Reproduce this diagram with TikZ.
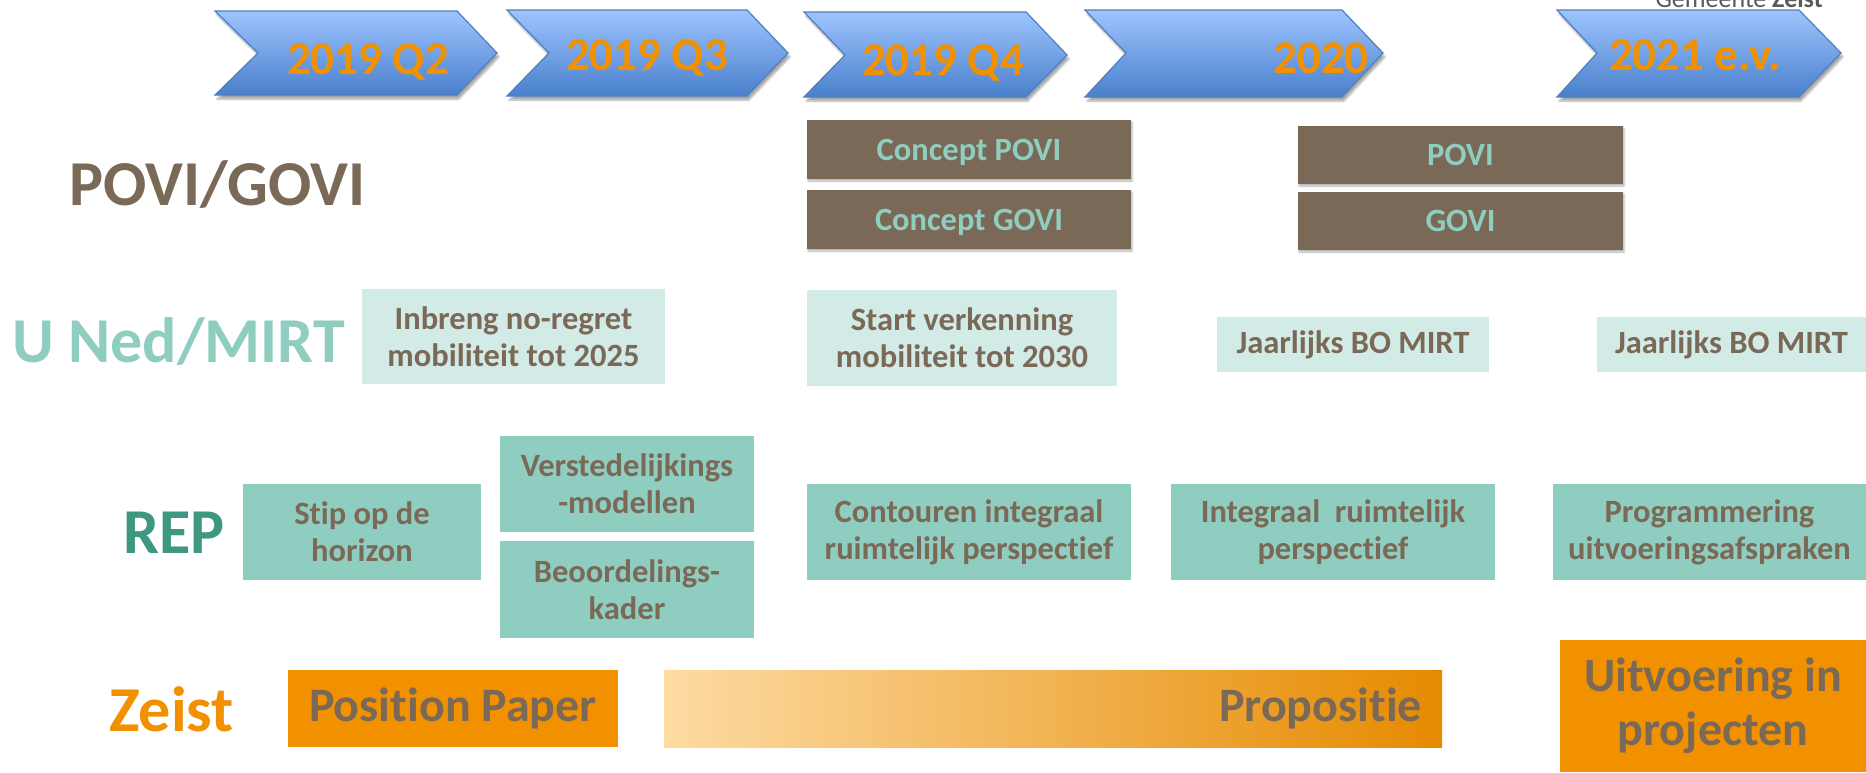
\documentclass[tikz,border=0pt]{standalone}
\usepackage{fontspec}
\setmainfont{Carlito}[Ligatures=NoCommon]
\usetikzlibrary{shadows.blur}
\definecolor{brownC}{HTML}{7B6957}
\definecolor{tealC}{HTML}{8FCDC0}
\definecolor{ltealC}{HTML}{D3EBE6}
\definecolor{repC}{HTML}{3F9782}
\definecolor{orangeC}{HTML}{F29100}
\definecolor{chevTop}{HTML}{9EC4FE}
\definecolor{chevBot}{HTML}{4980CC}
\definecolor{chevLine}{HTML}{4F7FBF}
\definecolor{propL}{HTML}{FDDBA3}
\definecolor{propR}{HTML}{E68A00}
\definecolor{greyC}{HTML}{595959}
\tikzset{
  chev/.style={draw=chevLine, line width=1.2pt, top color=chevTop, bottom color=chevBot,
    blur shadow={shadow xshift=2pt, shadow yshift=-4pt, shadow blur steps=6, shadow opacity=35}},
  chevtext/.style={text=orangeC, font=\bfseries\fontsize{47}{50}\selectfont, inner sep=0, anchor=base},
  rowlabel/.style={font=\bfseries\fontsize{64}{70}\selectfont, inner sep=0, anchor=base west},
  boxtxt/.style={font=\bfseries\fontsize{32.5}{37}\selectfont, align=center, inner sep=0},
  povibox/.style={boxtxt, fill=brownC, text=tealC, text height=21pt, text depth=0pt,
    blur shadow={shadow xshift=1pt, shadow yshift=-2pt, shadow blur steps=4, shadow opacity=30}},
  mirtbox/.style={boxtxt, fill=ltealC, text=brownC},
  repbox/.style={boxtxt, fill=tealC, text=brownC},
  zbox/.style={font=\bfseries\fontsize{48}{54}\selectfont, align=center, inner sep=0, fill=orangeC, text=brownC},
}
\begin{document}
\begin{tikzpicture}[x=1pt,y=-1pt]
\useasboundingbox (0,0) rectangle (1866,772);
% header text (cut off at top, as in the reference)
\node[inner sep=0, anchor=base east, text=greyC, font=\fontsize{26}{28}\selectfont] (gem) at (1823,7) {Gemeente \textbf{Zeist}};
% chevrons
\path[chev] (215,11) -- (457,11) -- (497,53) -- (457,95) -- (215,95) -- (258,53) -- cycle;
\path[chev] (507,10) -- (747,10) -- (788,53) -- (747,96) -- (507,96) -- (549,53) -- cycle;
\path[chev] (804,12) -- (1026,12) -- (1067,55) -- (1026,97) -- (804,97) -- (845,55) -- cycle;
\path[chev] (1085,10) -- (1342,10) -- (1383,53) -- (1342,97) -- (1085,97) -- (1126,53) -- cycle;
\path[chev] (1557,10) -- (1799,10) -- (1841,53) -- (1799,97) -- (1557,97) -- (1597,53) -- cycle;
\node[chevtext] (q2) at (368,74) {2019 Q2};
\node[chevtext] (q3) at (647,70) {2019 Q3};
\node[chevtext] (q4) at (943,75) {2019 Q4};
\node[chevtext] (y20) at (1321,73) {2020};
\node[chevtext] (y21) at (1695,70) {2021 e.v.};
% row labels
\node[rowlabel, text=brownC] (lpovi) at (69,205) {POVI/GOVI};
\node[rowlabel, text=tealC] (lmirt) at (12,362) {U Ned/MIRT};
\node[rowlabel, text=repC] (lrep) at (123,553) {REP};
\node[rowlabel, text=orangeC] (lzeist) at (109,731) {Zeist};
% POVI/GOVI
\node[povibox, minimum width=324, minimum height=59] (cpovi) at (969,149.5) {Concept POVI};
\node[povibox, minimum width=324, minimum height=59] (cgovi) at (969,219.5) {Concept GOVI};
\node[povibox, minimum width=325, minimum height=58] (povi) at (1460.5,155) {POVI};
\node[povibox, minimum width=325, minimum height=58] (govi) at (1460.5,221) {GOVI};
% U Ned / MIRT
\node[mirtbox, minimum width=303, minimum height=95] (inbreng) at (513.5,336.5) {Inbreng no-regret\\mobiliteit tot 2025};
\node[mirtbox, minimum width=310, minimum height=96] (start) at (962,338) {Start verkenning\\mobiliteit tot 2030};
\node[mirtbox, minimum width=272, minimum height=55] (bo1) at (1353,344.5) {Jaarlijks BO MIRT};
\node[mirtbox, minimum width=269, minimum height=55] (bo2) at (1731.5,344.5) {Jaarlijks BO MIRT};
% REP
\node[repbox, minimum width=238, minimum height=96] (stip) at (362,532) {Stip op de\\horizon};
\node[repbox, minimum width=254, minimum height=96] (verst) at (627,484) {Verstedelijkings\\-modellen};
\node[repbox, minimum width=254, minimum height=97] (beoord) at (627,589.5) {Beoordelings-\\kader};
\node[repbox, minimum width=324, minimum height=96] (cont) at (969,532) {Contouren integraal\\ruimtelijk perspectief};
\node[repbox, minimum width=324, minimum height=96] (integ) at (1333,532) {Integraal\ \ ruimtelijk\\perspectief};
\node[repbox, minimum width=313, minimum height=96] (progr) at (1709.5,532) {Programmering\\uitvoeringsafspraken};
% Zeist
\node[zbox, minimum width=330, minimum height=77] (pos) at (453,708.5) {Position Paper};
\node[zbox, fill=none, left color=propL, right color=propR, minimum height=77,
      text width=738, align=right, inner xsep=20] (prop) at (1053,708.5) {Propositie};
\node[zbox, minimum width=306, minimum height=132] (uitv) at (1713,706) {Uitvoering in\\projecten};
\end{tikzpicture}
\end{document}
